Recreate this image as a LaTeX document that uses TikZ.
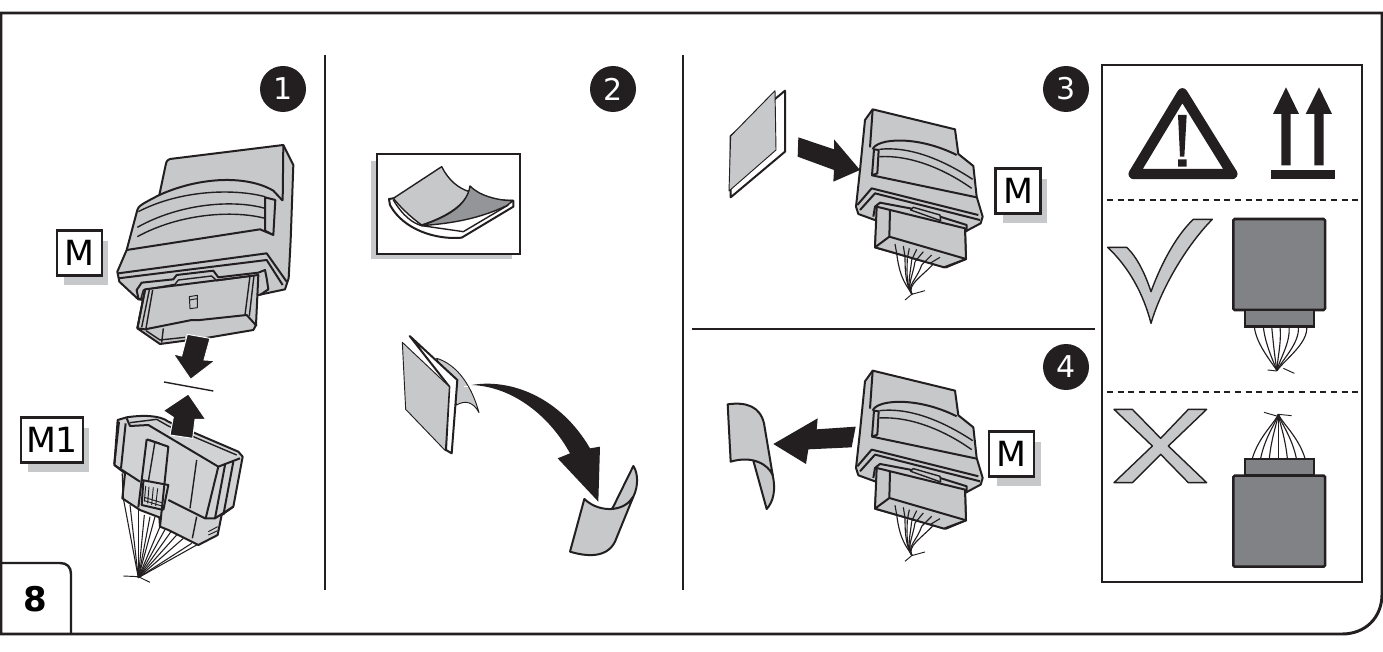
\documentclass[tikz,border=0pt]{standalone}
\usepackage{fontspec}
\setmainfont{DejaVu Sans}
\definecolor{ink}{RGB}{35,31,32}
\definecolor{lg}{RGB}{198,200,202}
\definecolor{mg}{RGB}{147,149,152}
\definecolor{dg}{RGB}{128,130,133}
\tikzset{
 zoomed/.style={scale=1/3},
 ln/.style={draw=ink,line width=1.5pt,line join=round},
 md/.style={draw=ink,line width=1.05pt,line join=round},
 th/.style={draw=ink,line width=.7pt,line join=round},
 bd/.style={ln,fill=lg},
 tagbox/.style={draw=ink,line width=1.7pt,fill=white,inner sep=0pt,minimum width=33.8pt,minimum height=33.8pt,font=\fontsize{26}{26}\selectfont},
 num/.style={circle,fill=ink,text=white,inner sep=0pt,minimum size=34.5pt,font=\fontsize{22.5}{22.5}\selectfont},
 shd/.style={fill=lg,draw=none},
 blk/.style={fill=ink,draw=none},
 divider/.style={draw=ink,line width=1.9pt},
 dashline/.style={draw=ink,line width=1.2pt,dash pattern=on 4.6pt off 3.4pt},
}
% zoom4 coordinates of the module in panels 3 and 4
\newcommand{\modthree}{%
 \path[bd] (548,148)--(795,208)--(805,282)--(850,318)--(860,410)--(878,470)--(872,490)--(825,515)--(828,597)--(768,622)--(555,562)--(560,482)--(505,462)--(498,440)--(510,330)--(525,180)--cycle;
 \path[ln] (548,148)--(540,262) (548,268)..controls(560,235)and(680,225)..(800,285);
 \path[md] (568,268)..controls(660,258)and(760,300)..(848,358) (568,290)..controls(660,285)and(760,325)..(845,385);
 \path[ln] (552,268)--(566,270)--(562,340)--(546,346)--cycle (546,346)--(860,412);
 \path[ln] (502,435)--(545,385)--(865,465) (510,450)--(555,400)--(870,480);
 % plug
 \path[ln,fill=lg] (560,440)--(825,505)--(828,597)--(762,622)--(555,562)--cycle;
 \path[ln] (600,450)--(598,530)--(555,562) (598,530)--(828,597);
 % lip
 \path[ln] (550,470)--(555,440)--(570,428)--(660,445)--(750,470)--(830,495)--(830,515);
 \path[md,fill=lg] (662,450)--(670,442)--(750,465)--(752,482)--cycle;
 % wires
 \foreach \xa/\ya/\cx/\cy in {620/580/630/660,645/590/645/650,652/595/650/645,665/600/660/650,675/605/668/650,695/615/680/660,730/612/695/650}{
  \path[md,line width=.85pt] (\xa,\ya)..controls(\cx,\cy)and(650,675)..(666,703);}
 \foreach \xa/\ya/\xb/\yb in {615/552/620/580,640/558/645/590,658/565/652/595,680/568/665/600,700/575/675/605,725/585/695/615,750/592/720/610}{
  \path[md,line width=.85pt] (\xa,\ya)--(\xb,\yb);}
 \path[th] (645,720)--(665,703)--(705,692);
}
\begin{document}
\begin{tikzpicture}[x=.75pt,y=-.75pt]
\useasboundingbox (0,0) rectangle (1383,652);
\path[fill=white] (0,0) rectangle (1383,652);
% frame
\path[draw=ink,line width=2.2pt] (1,13)--(1382,13)--(1382,594)..controls(1382,618)and(1365,634)..(1342,634)--(1,634)--cycle;
\path[draw=ink,line width=1.8pt] (1,563)--(60,563)..controls(67,563)and(71,567)..(71,574)--(71,634);
\node (lab8) at (35,599) {\fontsize{25.5}{25.5}\selectfont\bfseries 8};
% dividers
\coordinate (d1a) at (325,55); \coordinate (d1b) at (325,590);
\coordinate (d2a) at (683,55); \coordinate (d2b) at (683,590);
\coordinate (d3a) at (692,329); \coordinate (d3b) at (1095,329);
\path[divider] (d1a)--(d1b) (d2a)--(d2b) (d3a)--(d3b);
% circles
\node[num] (n1) at (283,89) {1};
\node[num] (n2) at (613,89) {2};
\node[num] (n3) at (1066,89) {3};
\node[num] (n4) at (1066,367) {4};
% panel 1 module body
\begin{scope}[shift={(0,40)},zoomed]
 \path[bd] (478,465)--(497,375)..controls(499,362)and(505,358)..(510,357)--(850,315)--(880,375)--(872,600)--(866,715)--(855,748)--(775,765)--(430,780)--(415,778)--(358,725)--(352,695)--(380,630)--(412,510)..controls(414,498)and(430,490)..(478,465)--cycle;
 \path[ln] (850,315)--(848,482);
 \path[ln] (478,465)..controls(600,410)and(740,405)..(820,452)--(848,482);
 \path[md] (415,515)..controls(540,450)and(700,445)..(795,470) (412,562)..controls(540,490)and(700,478)..(795,505) (412,590)..controls(540,520)and(700,510)..(795,535);
 \path[ln] (795,472)--(826,480)--(820,585)--(795,572)--cycle (380,630)--(780,568)--(820,585);
\end{scope}
% panel 1 module front
\begin{scope}[shift={(110,240)},zoomed]
 \path[ln] (25,100)--(470,40)--(530,125) (25,115)--(470,60)--(518,135);
 \path[ln,fill=lg] (105,148)--(445,105)--(438,255)--(430,270)--(300,292)--(150,312)--(82,265)--cycle;
 \path[ln] (82,265)--(105,268)--(245,240)--(270,240)--(410,225)--(440,258);
 \path[md] (118,150)--(95,262) (128,150)--(108,265) (420,108)--(405,225) (432,106)--(418,228);
 \path[ln] (105,150)--(82,265);
 \path[md] (160,265)--(155,308) (108,272)--(150,300)--(225,292);
 \path[ln] (85,175)--(80,150)--(95,128)--(190,118)--(200,105)--(310,92)--(325,112)--(445,98)--(465,90)--(470,115)--(475,148)--(450,165);
 \path[md] (100,150)--(195,133)--(205,120)--(305,108)--(320,122)--(425,108) (85,175)--(100,180) (100,150)--(92,178);
 \path[md,line width=.7pt,fill=lg] (238,170)--(262,166)--(262,203)--(240,206)--cycle (238,180)--(262,176);
\end{scope}
% M1
\begin{scope}[shift={(105,410)},zoomed]
 \foreach \xa/\ya in {55/265,75/285,100/300,118/315,135/320,150/320,165/350,182/355,200/362,215/375,235/385,260/400,275/405}{
  \path[md,line width=.8pt] (\xa,\ya)--(100,503);}
 \path[th] (55,498)--(100,500)--(135,517);
 \path[ln,fill=lg!82!white] (38,30)--(65,22)..controls(110,15)and(165,15)..(190,35)--(400,125)--(413,140)--(385,290)--(350,315)--(338,375)--(280,405)--(190,360)--(165,350)--(163,322)--(105,300)--(52,265)--(60,190)--(28,165)--cycle;
 \path[ln] (42,35)--(28,162) (62,40)--(48,175);
 \path[ln] (65,25)--(75,48)--(130,45)--(340,170)--(405,145);
 \path[md] (75,38)--(155,28)--(190,48)--(395,135);
 \path[ln] (28,165)--(105,215) (190,270)--(300,325)--(330,325)--(385,290);
 \path[ln] (125,88)--(190,110)--(165,350) (125,88)--(100,292);
 \path[md] (150,95)--(130,215) (135,90)--(165,100);
 \path[ln] (110,210)--(190,225)--(175,300) (115,215)--(110,285)--(175,300);
 \path[md,line width=.7pt] (122,228)--(118,275) (132,230)--(128,280) (145,232)--(140,285) (158,235)--(152,288) (118,262)--(170,278) (118,272)--(170,288);
 \path[md] (52,190)--(55,265) (275,150)--(255,295) (275,320)--(262,385);
 \path[ln] (340,170)--(302,325) (360,165)--(330,325) (385,155)--(355,315);
 \path[md,line width=.7pt] (310,365)--(338,350) (310,375)--(338,362);
\end{scope}
% arrows panel 1
\begin{scope}[shift={(0,340)},zoomed]
 \path[blk,draw=white,line width=.7pt] (562,-17)--(630,-5)--(612,60)--(645,62)--(572,118)--(520,42)--(545,48)--cycle;
 \path[md] (492,126)--(640,153);
 \path[blk,draw=white,line width=.7pt] (510,285)--(520,232)--(490,212)--(565,162)--(617,238)--(585,238)--(578,295)--cycle;
\end{scope}
% tags
\fill[lg] (64,241) rectangle (108,285);
\node[tagbox] (tagM) at (79.3,253) {M};
\fill[lg] (28,428) rectangle (89,472);
\node[tagbox,minimum width=46pt] (tagMone) at (52,440) {M1};
% panel 2
\begin{scope}[shift={(340,130)},zoomed]
 \path[shd] (93,93) rectangle (516,387);
 \path[fill=white,draw=ink,line width=1.7pt] (111,71) rectangle (540,371);
 \path[ln,fill=white] (147,207)--(160,205)--(520,212)--(520,230)--(365,323)..controls(290,330)and(190,300)..(150,225)--cycle;
 \path[md,fill=white] (160,210)..controls(190,260)and(220,280)..(245,287)--(370,305)--(505,225);
 \path[md,fill=lg] (160,205)--(305,110)..controls(325,150)and(355,175)..(388,185)..controls(365,240)and(290,270)..(245,285)..controls(210,260)and(180,230)..(160,205)--cycle;
 \path[md,fill=mg] (390,168)..controls(415,195)and(470,212)..(520,212)--(500,227)..controls(420,265)and(340,280)..(245,287)..controls(320,260)and(380,230)..(390,168)--cycle;
 % lower sheet
 \path[th,fill=lg] (290,685)..controls(340,700)and(390,750)..(417,848)..controls(400,815)and(375,810)..(350,825)--cycle;
 \path[ln,fill=white] (209,618)--(352,750)--(335,970)--(318,960)--(328,770)--cycle;
 \path[th,fill=lg] (187,637)--(328,770)--(316,962)--(197,838)--cycle;
 \path[draw=white,line width=1pt] (372,770)--(384,770);
 \path[blk] (395,765)..controls(510,745)and(660,800)..(750,955)--(780,950)--(775,1115)--(653,985)--(690,970)..controls(630,860)and(520,770)..(395,765)--cycle;
 \path[ln,fill=lg] (820,1130)--(880,1008)..controls(895,1030)and(895,1070)..(880,1100)..controls(860,1130)and(835,1140)..(815,1137)--cycle;
 \path[ln,fill=lg] (733,1107)..controls(760,1132)and(790,1138)..(815,1137)..controls(840,1135)and(865,1125)..(880,1100)--(825,1235)..controls(800,1285)and(740,1280)..(690,1265)--cycle;
\end{scope}
% panel 3
\begin{scope}[shift={(690,60)},zoomed]
 \path[ln,fill=white] (285,92)--(285,275)--(122,412)--(122,228)--cycle;
 \path[th,fill=lg] (255,92)--(258,270)--(117,393)--(122,228)--cycle;
 \path[blk] (325,232)--(432,268)--(432,238)--(510,330)--(430,365)--(432,330)--(323,290)--cycle;
 \modthree
\end{scope}
\fill[lg] (1003,179) rectangle (1047,223);
\node[tagbox] (tagMb) at (1018,191) {M};
% panel 4
\begin{scope}[shift={(690,321.3)},zoomed]
 \modthree
\end{scope}
\begin{scope}[shift={(690,340)},zoomed]
 \path[ln,fill=lg] (190,362)..controls(220,365)and(240,380)..(248,405)..controls(258,450)and(250,485)..(230,507)--cycle;
 \path[ln,fill=lg] (113,193)..controls(170,185)and(210,200)..(222,250)--(248,405)..controls(235,375)and(190,345)..(122,365)--cycle;
 \path[blk] (497,260)--(380,268)--(383,235)--(250,312)--(348,372)--(355,328)--(485,322)--cycle;
\end{scope}
\fill[lg] (997,442) rectangle (1041,486);
\node[tagbox] (tagMc) at (1011.8,454) {M};
% right panel
\path[draw=ink,line width=1.6pt] (1102,65) rectangle (1362,582);
\coordinate (da1) at (1107,200); \coordinate (da2) at (1358,200);
\coordinate (db1) at (1107,392); \coordinate (db2) at (1358,392);
\path[dashline] (da1)--(da2) (db1)--(db2);
\begin{scope}[shift={(1095,60)},zoomed]
 \path[draw=ink,line width=7.8pt,line join=round] (262,100)--(116,342)--(412,342)--cycle;
 \path[blk] (249,165)--(275,165)--(268,290)--(255,290)--cycle (249,298) rectangle (275,320);
 \path[blk] (573,82)--(612,162)--(587,162)--(587,316)--(559,316)--(559,162)--(534,162)--cycle;
 \path[blk] (672,82)--(711,162)--(686,162)--(686,316)--(658,316)--(658,162)--(632,162)--cycle;
 \path[blk] (528,330) rectangle (720,356);
 \path[md,fill=lg] (38,562)--(95,562)..controls(125,590)and(150,640)..(168,695)..controls(195,620)and(240,530)..(295,478)--(352,478)..controls(280,550)and(200,680)..(168,790)..controls(145,700)and(100,620)..(38,562)--cycle;
 \path[draw=ink,line width=1.9pt,fill=dg,rounded corners=1pt] (415,477) rectangle (690,750);
 \path[draw=ink,line width=1.9pt,fill=dg] (450,750) rectangle (657,800);
 \foreach \xa/\xb in {478/525,505/533,530/540,555/546,582/552,610/560,635/568}{
  \path[md,line width=.85pt] (\xa,800)..controls(\xa+5,850)and(\xb,900)..(546,932);}
 \path[th] (518,930)--(546,933) (565,925)--(598,940);
 \path[md,fill=lg] (57,1048)--(112,1048)--(197,1135)--(280,1048)--(335,1048)--(220,1158)--(335,1268)--(280,1268)--(197,1183)--(112,1268)--(57,1268)--(172,1158)--cycle;
 \path[draw=ink,line width=1.9pt,fill=dg] (450,1197) rectangle (657,1247);
 \path[draw=ink,line width=1.9pt,fill=dg,rounded corners=1pt] (415,1247) rectangle (690,1520);
 \foreach \xa in {472,497,523,550,577,604,630}{
  \path[md,line width=.85pt] (\xa,1195)..controls({\xa+(550-\xa)*0.25},1130)and({550+(\xa-550)*0.15},1090)..(550,1063);}
 \path[th] (507,1057)--(545,1068) (550,1063)--(590,1067);
\end{scope}
\end{tikzpicture}
\end{document}
